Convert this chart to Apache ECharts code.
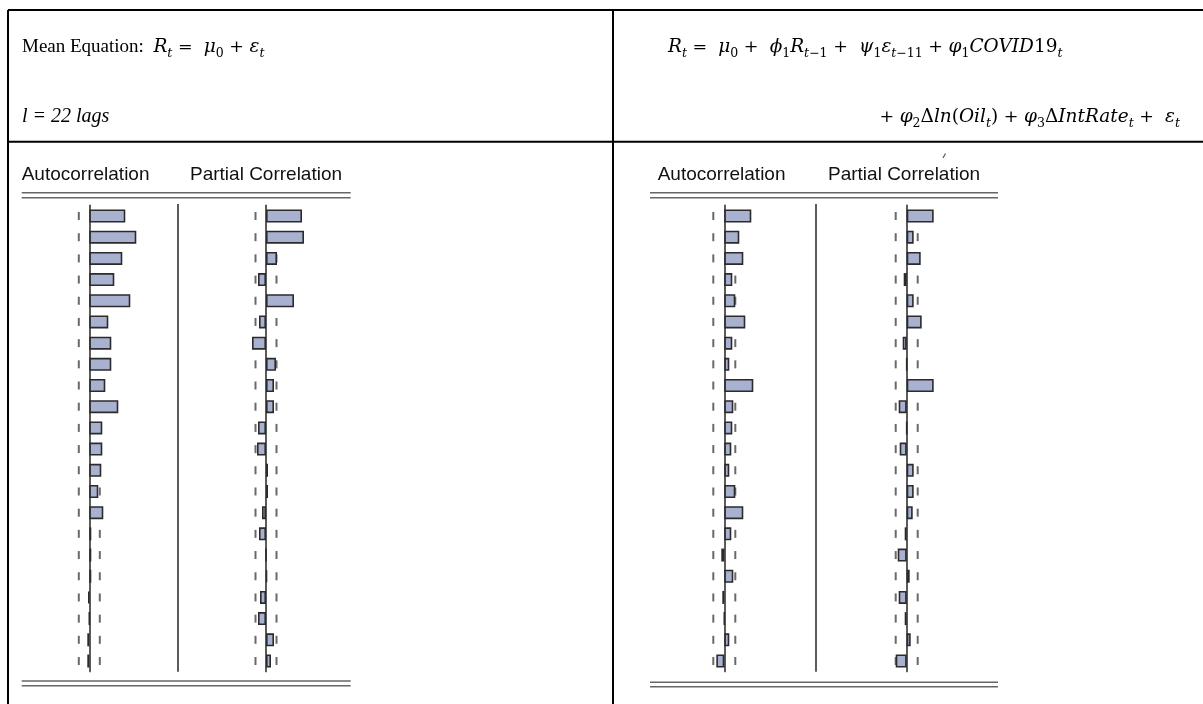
<!DOCTYPE html>
<html lang="en">
<head>
    <meta charset="UTF-8">
    <title>Correlogram</title>
    <script src="https://cdn.jsdelivr.net/npm/echarts@6/dist/echarts.min.js"></script>
    <style>
        html, body {
            margin: 0;
            padding: 0;
            background: #fff;
        }

        #chart {
            width: 1203px;
            height: 704px;
        }
    </style>
</head>
<body>
<div id="chart"></div>

<script type="text/javascript">
    // lags 1..22
    var lags = ['1', '2', '3', '4', '5', '6', '7', '8', '9', '10', '11',
        '12', '13', '14', '15', '16', '17', '18', '19', '20', '21', '22'];

    // mean equation residuals
    var acfMean = [0.36, 0.47, 0.33, 0.25, 0.41, 0.19, 0.22, 0.22, 0.16, 0.29, 0.13,
        0.13, 0.12, 0.09, 0.14, 0.02, 0.02, 0.02, -0.01, 0.00, -0.02, -0.02];
    var pacfMean = [0.36, 0.38, 0.11, -0.08, 0.28, -0.07, -0.14, 0.10, 0.08, 0.08, -0.08,
        -0.09, 0.02, 0.02, -0.04, -0.07, 0.00, 0.01, -0.06, -0.08, 0.08, 0.05];

    // full model residuals
    var acfFull = [0.27, 0.15, 0.19, 0.08, 0.11, 0.21, 0.08, 0.05, 0.29, 0.09, 0.08,
        0.07, 0.05, 0.11, 0.19, 0.07, -0.03, 0.09, -0.02, 0.00, 0.05, -0.08];
    var pacfFull = [0.27, 0.07, 0.14, -0.03, 0.07, 0.15, -0.04, 0.00, 0.27, -0.08, 0.00,
        -0.07, 0.07, 0.07, 0.06, -0.02, -0.09, 0.03, -0.08, -0.02, 0.04, -0.11];

    // +/- 2 s.e. bands
    var boundMean = 0.105;
    var boundFull = 0.11;

    var headers = ['Autocorrelation', 'Partial Correlation'];

    var chart = echarts.init(document.getElementById('chart'));

    var gridTop = 205.4;
    var gridH = 466.2;
    // x of the zero line for each panel
    var zeros = [89.3, 266, 724.3, 906.7];
    var panels = [
        {vals: acfMean, bound: boundMean},
        {vals: pacfMean, bound: boundMean},
        {vals: acfFull, bound: boundFull},
        {vals: pacfFull, bound: boundFull}
    ];

    var grids = [], xAxes = [], yAxes = [], series = [];
    panels.forEach(function (p, i) {
        grids.push({left: zeros[i] - 60, top: gridTop, width: 120, height: gridH});
        xAxes.push({type: 'value', gridIndex: i, min: -0.6, max: 0.6, show: false});
        yAxes.push({
            type: 'category', gridIndex: i, data: lags, inverse: true,
            axisLine: {onZero: true, lineStyle: {color: '#333', width: 1.6}},
            axisTick: {show: false},
            axisLabel: {show: false},
            splitLine: {show: false}
        });
        var dashes = [];
        lags.forEach(function (l) {
            dashes.push([-p.bound, l]);
            dashes.push([p.bound, l]);
        });
        series.push({
            type: 'scatter', xAxisIndex: i, yAxisIndex: i,
            symbol: 'rect', symbolSize: [2, 8],
            itemStyle: {color: '#444'},
            data: dashes, z: 2, silent: true
        });
        series.push({
            type: 'bar', xAxisIndex: i, yAxisIndex: i,
            data: p.vals, barWidth: 13,
            itemStyle: {color: '#a9b1d0', borderColor: '#2b2b2b', borderWidth: 1.6},
            z: 3, silent: true
        });
    });

    function line(x1, y1, x2, y2, color, w) {
        return {
            type: 'line', silent: true,
            shape: {x1: x1, y1: y1, x2: x2, y2: y2},
            style: {stroke: color, lineWidth: w}
        };
    }

    var textFont = 'Liberation Serif';
    var mathFont = 'DejaVu Serif';
    var rich = {
        t: {fontFamily: textFont, fontSize: 19, lineHeight: 26, fill: '#000'},
        n: {fontFamily: mathFont, fontSize: 17.5, lineHeight: 26, fill: '#000'},
        m: {fontFamily: mathFont, fontSize: 18.5, fontStyle: 'italic', lineHeight: 26, fill: '#000'},
        u: {fontFamily: mathFont, fontSize: 18.5, lineHeight: 26, fill: '#000'},
        i: {fontFamily: textFont, fontSize: 20, fontStyle: 'italic', lineHeight: 26, fill: '#000'},
        s: {fontFamily: mathFont, fontSize: 12.5, fontStyle: 'italic', lineHeight: 12, verticalAlign: 'bottom', fill: '#000'},
        d: {fontFamily: mathFont, fontSize: 12.5, lineHeight: 12, verticalAlign: 'bottom', fill: '#000'}
    };

    function eq(x, y, txt, align) {
        return {
            type: 'text', silent: true, x: x, y: y,
            style: {text: txt, rich: rich, align: align || 'left', verticalAlign: 'top'}
        };
    }

    function head(x, txt) {
        return {
            type: 'text', silent: true, x: x, y: 175,
            style: {
                text: txt, fill: '#111', align: 'left', verticalAlign: 'middle',
                font: '19px "Liberation Sans", Arial, sans-serif'
            }
        };
    }

    var graphic = [
        // table frame
        line(8, 10, 1203, 10, '#000', 2),
        line(8, 10, 8, 704, '#000', 2),
        line(613, 10, 613, 704, '#000', 2),
        line(8, 141.8, 1203, 141.8, '#000', 2),

        // equations
        eq(22, 34, '{t|Mean Equation:  }{m|R}{s|t}{n| =  }{m|μ}{d|0}{n| + }{m|ε}{s|t}'),
        eq(22, 104, '{i|l = 22 lags}'),
        eq(668, 34, '{m|R}{s|t}{n| =  }{m|μ}{d|0}{n| +  }{m|ϕ}{d|1}{m|R}{s|t}{d|−1}{n| +  }' +
            '{m|ψ}{d|1}{m|ε}{s|t}{d|−11}{n| + }{m|φ}{d|1}{m|COVID}{u|19}{s|t}'),
        eq(1180, 104, '{n|+ }{m|φ}{d|2}{u|Δ}{m|ln}{u|(}{m|Oil}{s|t}{u|)}{n| + }{m|φ}{d|3}' +
            '{u|Δ}{m|IntRate}{s|t}{n| +  }{m|ε}{s|t}', 'right'),

        // left correlogram frame
        head(21.7, headers[0]),
        head(190, headers[1]),
        line(21.7, 192.7, 350.7, 192.7, '#666', 1.5),
        line(21.7, 197.7, 350.7, 197.7, '#666', 1.5),
        line(21.7, 681, 350.7, 681, '#666', 1.5),
        line(21.7, 685.7, 350.7, 685.7, '#666', 1.5),
        line(178, 204, 178, 671.7, '#333', 1.6),

        // right correlogram frame
        head(657.7, headers[0]),
        head(828, headers[1]),
        line(943, 158, 945.5, 153.5, '#555', 1.2),
        line(650, 192.7, 998, 192.7, '#666', 1.5),
        line(650, 197.7, 998, 197.7, '#666', 1.5),
        line(650, 682.3, 998, 682.3, '#666', 1.5),
        line(650, 686.7, 998, 686.7, '#666', 1.5),
        line(816, 204, 816, 671.7, '#333', 1.6)
    ];

    chart.setOption({
        animation: false,
        backgroundColor: '#fff',
        grid: grids,
        xAxis: xAxes,
        yAxis: yAxes,
        series: series,
        graphic: graphic
    });
</script>
</body>
</html>
